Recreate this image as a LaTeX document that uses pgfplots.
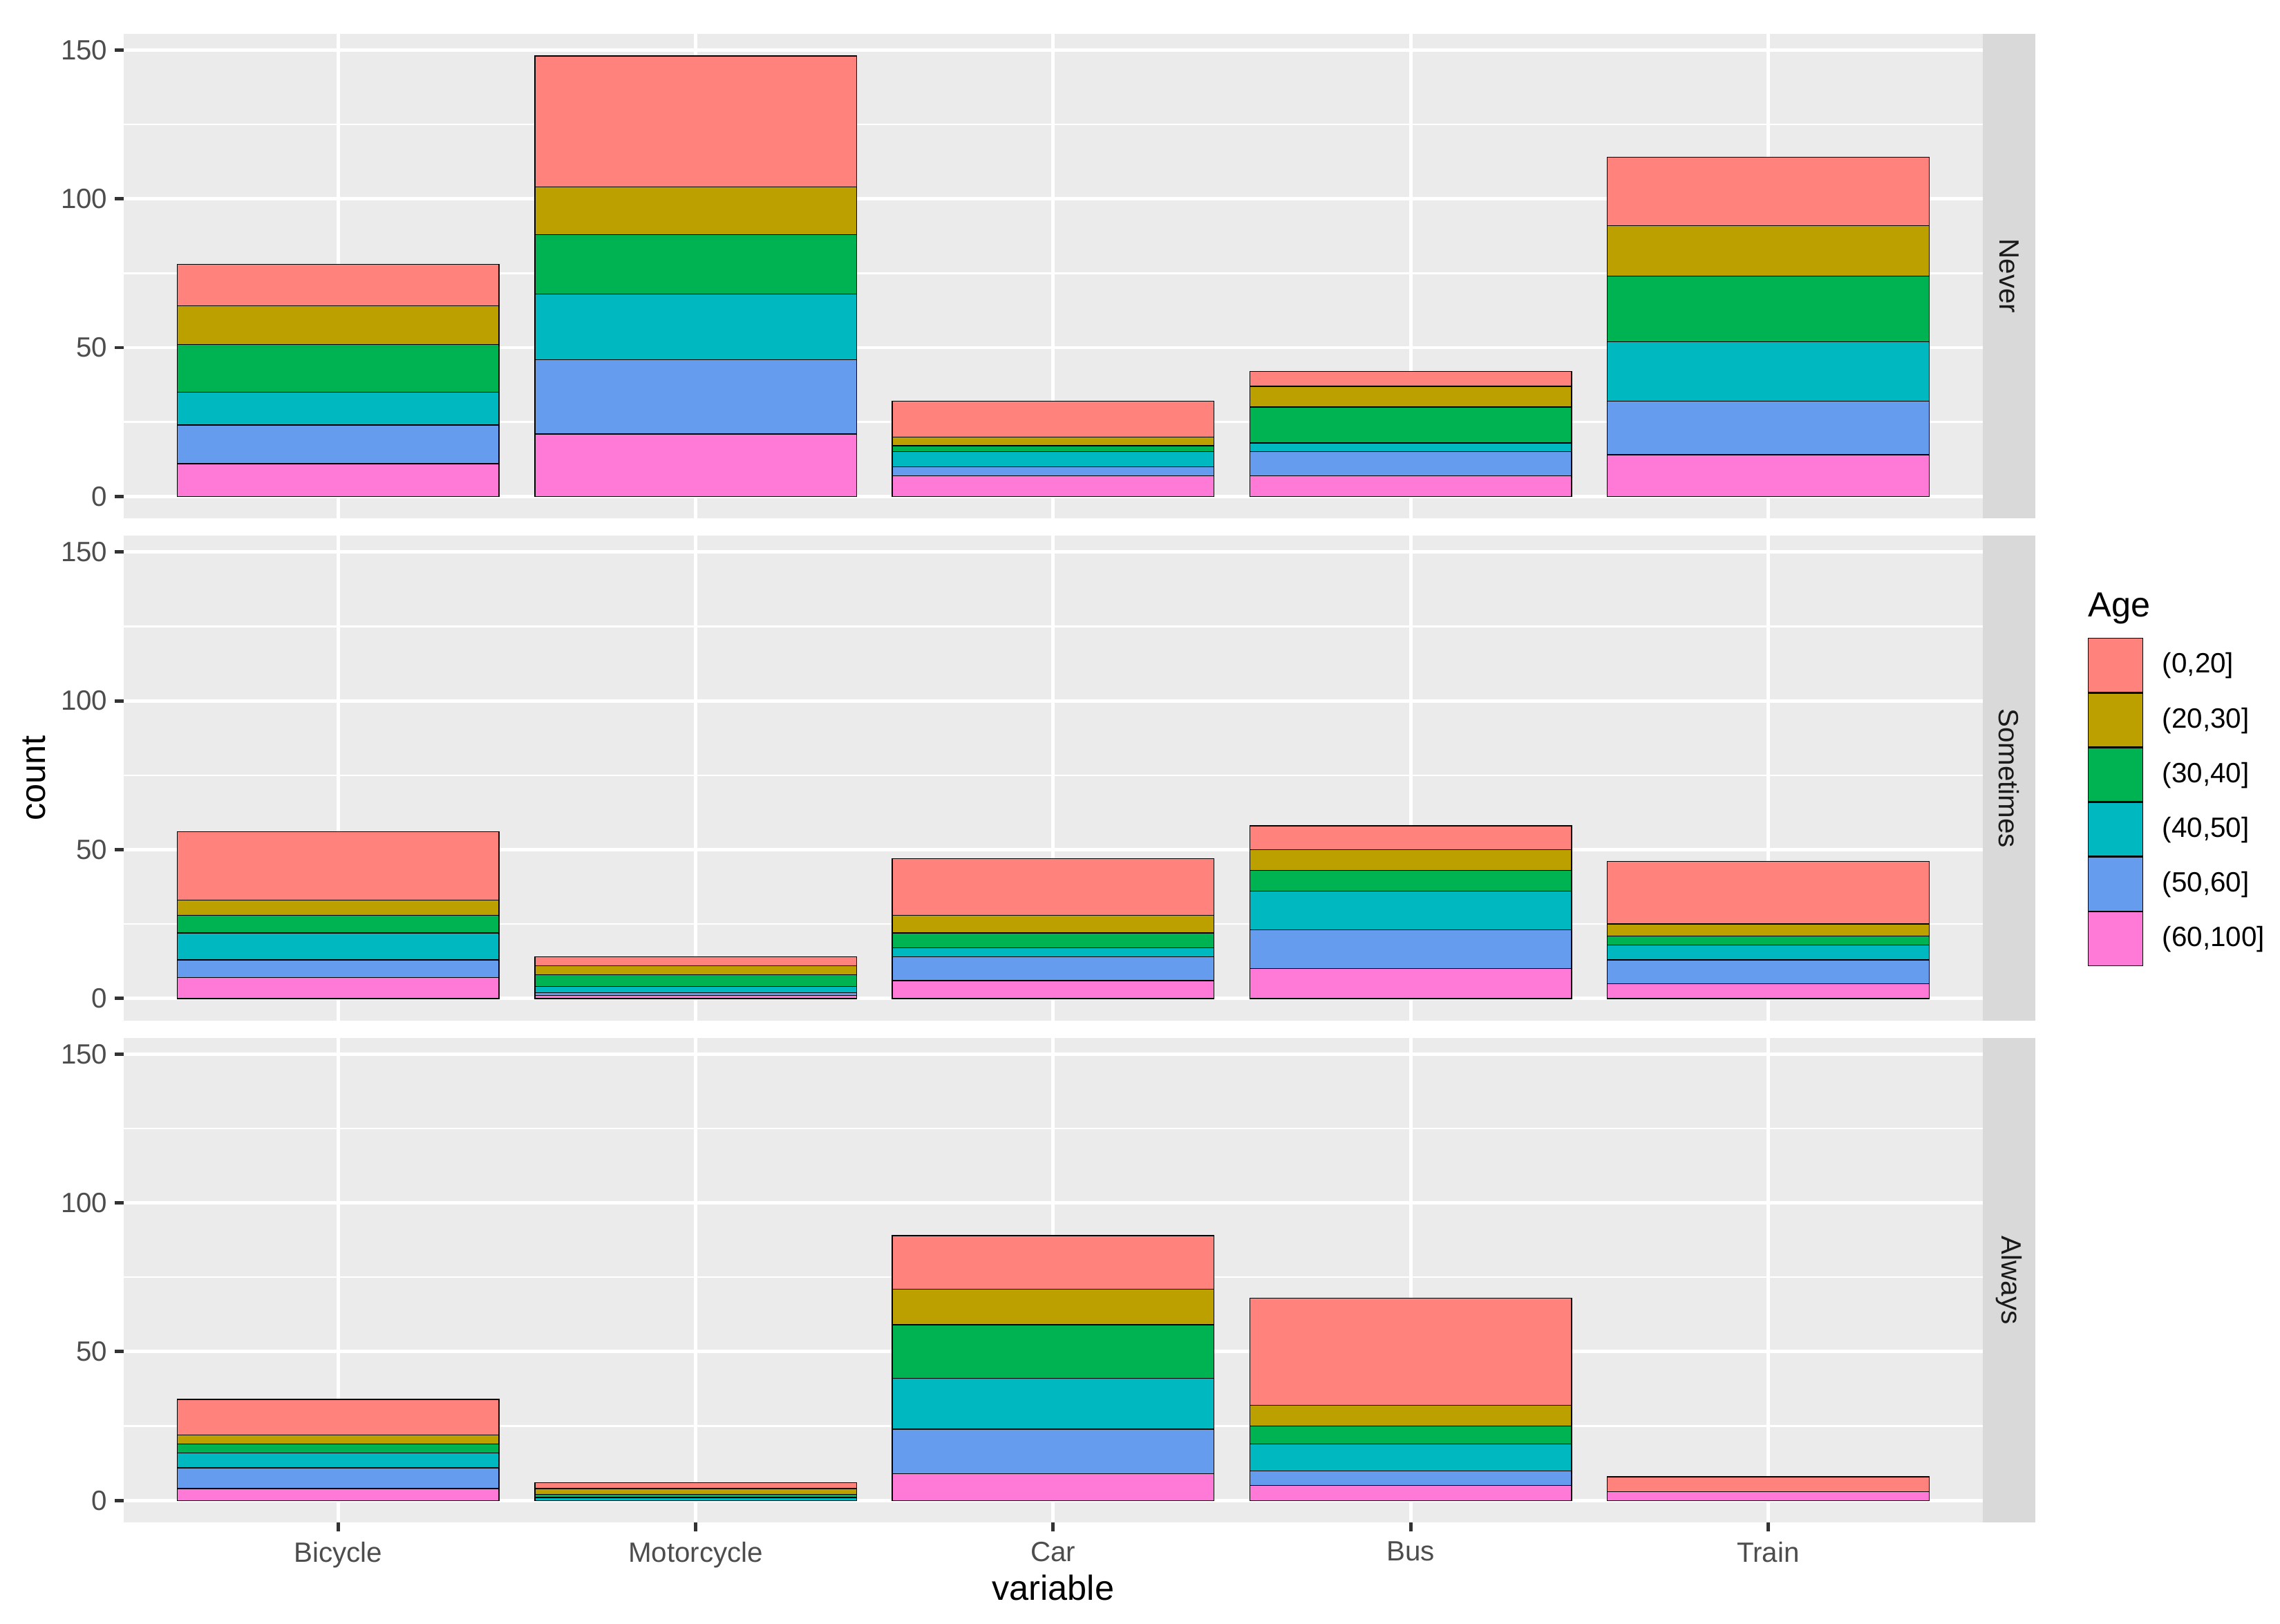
\documentclass[border=0pt]{standalone}
\usepackage{fontspec}
\setmainfont{Liberation Sans}
\usepackage{pgfplots}
\usepackage{pgfplotstable}
\pgfplotsset{compat=1.18}

\definecolor{panelbg}{HTML}{EBEBEB}
\definecolor{stripbg}{HTML}{D9D9D9}
\definecolor{ticklab}{HTML}{4D4D4D}
\definecolor{tickcol}{HTML}{333333}
\definecolor{striptext}{HTML}{1A1A1A}
\definecolor{c0}{HTML}{FF837C}
\definecolor{c20}{HTML}{BBA000}
\definecolor{c30}{HTML}{00B352}
\definecolor{c40}{HTML}{00B8C0}
\definecolor{c50}{HTML}{669CEE}
\definecolor{c60}{HTML}{FF79D7}

% counts per age group, one table per facet
\pgfplotstableread{
x  a60 a50 a40 a30 a20 a0
1  11  13  11  16  13  14
2  21  25  22  20  16  44
3  7   3   5   2   3   12
4  7   8   3   12  7   5
5  14  18  20  22  17  23
}\never

\pgfplotstableread{
x  a60 a50 a40 a30 a20 a0
1  7   6   9   6   5   23
2  1   1   2   4   3   3
3  6   8   3   5   6   19
4  10  13  13  7   7   8
5  5   8   5   3   4   21
}\sometimes

\pgfplotstableread{
x  a60 a50 a40 a30 a20 a0
1  4   7   5   3   3   12
2  0   0   1   1   2   2
3  9   15  17  18  12  18
4  5   5   9   6   7   36
5  3   0   0   0   0   5
}\always

\newcommand\facetbars[1]{%
  \addplot[fill=c60] table[x=x,y=a60]{#1};
  \addplot[fill=c50] table[x=x,y=a50]{#1};
  \addplot[fill=c40] table[x=x,y=a40]{#1};
  \addplot[fill=c30] table[x=x,y=a30]{#1};
  \addplot[fill=c20] table[x=x,y=a20]{#1};
  \addplot[fill=c0]  table[x=x,y=a0]{#1};
}

\pgfplotsset{
  facet/.style={
    scale only axis, width=586.9pt, height=153pt,
    anchor=north west,
    xmin=0.4, xmax=5.6, ymin=-7.4, ymax=155.4,
    ybar stacked, bar width=0.9,
    axis background/.style={fill=panelbg},
    axis line style={draw=none},
    xtick={1,...,5}, ytick={0,50,100,150}, minor ytick={25,75,125},
    grid=both,
    major grid style={white, line width=1.07pt},
    minor grid style={white, line width=0.53pt},
    tick align=outside, major tick length=2.75pt, minor tick length=0pt,
    tick style={color=tickcol, line width=1.07pt},
    xtick pos=bottom, ytick pos=left,
    /pgf/number format/assume math mode=true,
    yticklabel style={font=\fontsize{8.8}{10}\selectfont, text=ticklab, inner sep=0pt, anchor=east, xshift=-2.2pt},
    xticklabel style={font=\fontsize{8.8}{10}\selectfont, text=ticklab, inner sep=0pt, anchor=north, yshift=-3.1pt},
    every axis plot/.append style={draw=black, line width=0.3pt},
    every axis plot post/.append style={
      legend image code/.code={\draw[##1, line width=0.3pt] (0pt,-8.49pt) rectangle (17.28pt,8.49pt);}},
  },
}

\begin{document}
\begin{tikzpicture}
\useasboundingbox (0,0) rectangle (719.8pt,-512.7pt);

\begin{axis}[facet, name=p1, at={(39.05pt,-10.7pt)}, xticklabels={}, xtick style={draw=none}]
\facetbars{\never}
\end{axis}

\begin{axis}[facet, name=p2, at={(39.05pt,-169.2pt)}, xticklabels={}, xtick style={draw=none},
  reverse legend,
  legend style={at={(axis description cs:1.0565,0.7895)}, anchor=north west, draw=none, fill=none,
    inner sep=0pt, outer sep=0pt, row sep=0pt,
    font=\fontsize{8.8}{10}\selectfont,
    nodes={inner sep=0pt},
    /tikz/every odd column/.append style={column sep=6pt}},
  legend cell align=left]
\facetbars{\sometimes}
\legend{{(60,100]},{(50,60]},{(40,50]},{(30,40]},{(20,30]},{(0,20]}}
\end{axis}

\begin{axis}[facet, name=p3, at={(39.05pt,-327.7pt)},
  xticklabels={Bicycle,Motorcycle,Car,Bus,Train}]
\facetbars{\always}
\end{axis}

% facet strips
\foreach \p/\lab in {p1/Never,p2/Sometimes,p3/Always}{
  \fill[stripbg] (\p.north east) rectangle ([xshift=16.6pt]\p.south east);
  \node[rotate=-90, text=striptext, font=\fontsize{8.8}{10}\selectfont, inner sep=0pt]
    at ([xshift=8.3pt]\p.east) {\lab};
}

% titles
\node[anchor=base, font=\fontsize{11}{13}\selectfont, inner sep=0pt] at (332.5pt,-505.3pt) {variable};
\node[anchor=base, rotate=90, font=\fontsize{11}{13}\selectfont, inner sep=0pt] at (14.2pt,-245.7pt) {count};
\node[anchor=base west, font=\fontsize{11}{13}\selectfont, inner sep=0pt] at (659.1pt,-194.7pt) {Age};
\end{tikzpicture}
\end{document}
